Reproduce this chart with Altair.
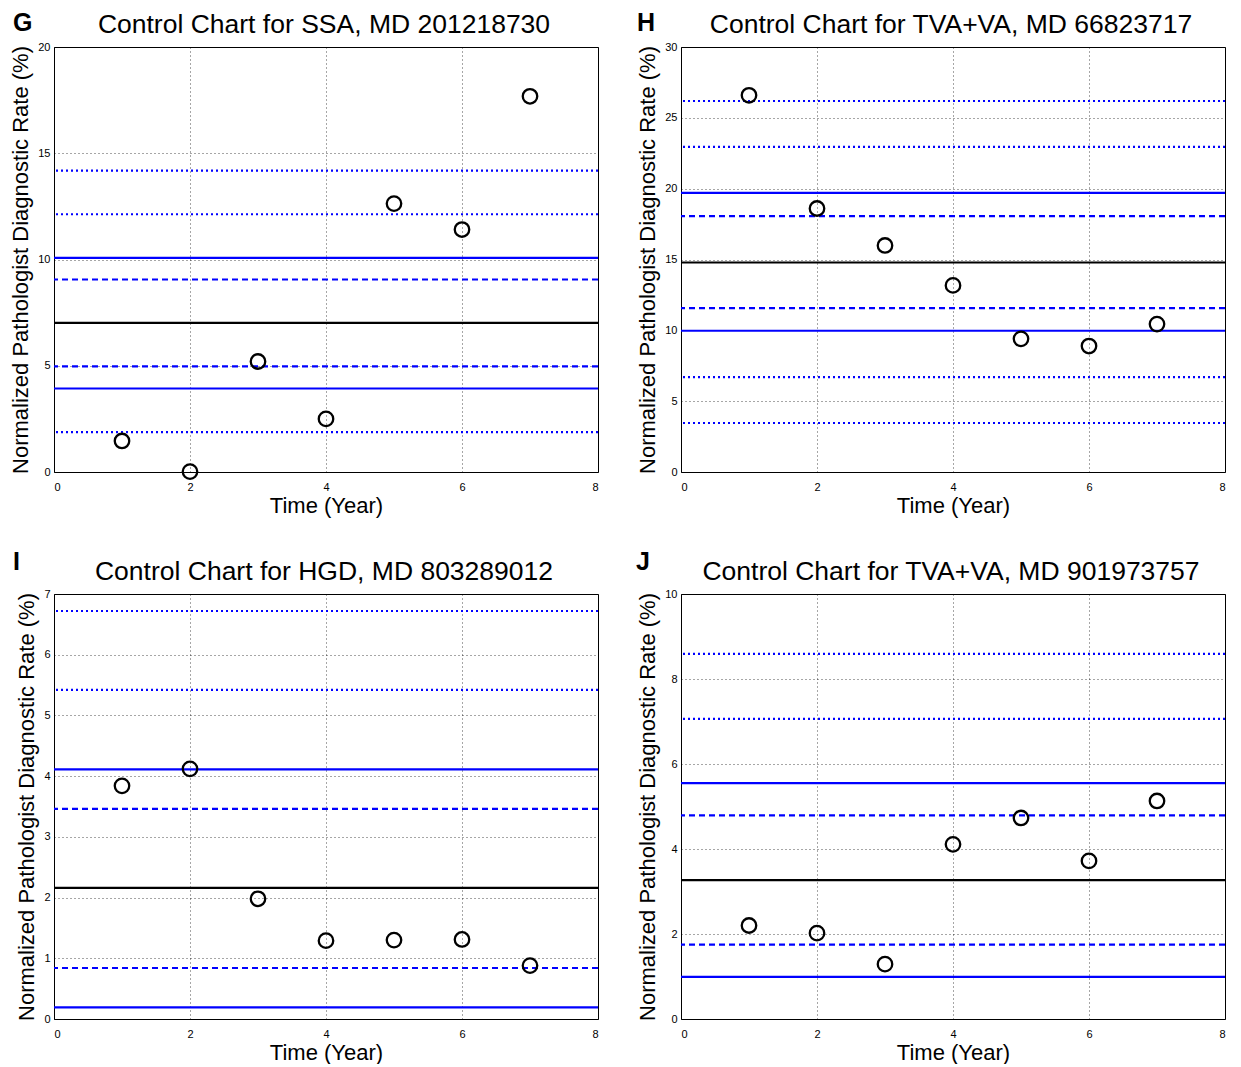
import altair as alt
import pandas as pd

years = [1, 2, 3, 4, 5, 6, 7]

# Panel G
g_title = "Control Chart for SSA, MD 201218730"
g_vals = [1.46, 0.02, 5.2, 2.5, 12.63, 11.41, 17.68]
g_center = [7.02]
g_solid = [10.08, 3.93]
g_dashed = [9.06, 4.97]
g_dotted = [14.18, 12.13, 1.88]
g_ymax = 20
g_yticks = [0, 5, 10, 15, 20]

# Panel H
h_title = "Control Chart for TVA+VA, MD 66823717"
h_vals = [26.59, 18.6, 15.99, 13.17, 9.4, 8.89, 10.44]
h_center = [14.79]
h_solid = [19.70, 9.97]
h_dashed = [18.06, 11.57]
h_dotted = [26.19, 22.95, 6.70, 3.46]
h_ymax = 30
h_yticks = [0, 5, 10, 15, 20, 25, 30]

# Panel I
i_title = "Control Chart for HGD, MD 803289012"
i_vals = [3.84, 4.12, 1.98, 1.29, 1.30, 1.31, 0.88]
i_center = [2.16]
i_solid = [4.11, 0.19]
i_dashed = [3.46, 0.84]
i_dotted = [6.72, 5.42]
i_ymax = 7
i_yticks = [0, 1, 2, 3, 4, 5, 6, 7]

# Panel J
j_title = "Control Chart for TVA+VA, MD 901973757"
j_vals = [2.20, 2.02, 1.29, 4.11, 4.73, 3.72, 5.13]
j_center = [3.27]
j_solid = [5.55, 0.99]
j_dashed = [4.79, 1.75]
j_dotted = [8.59, 7.06]
j_ymax = 10
j_yticks = [0, 2, 4, 6, 8, 10]

x_ticks = [0, 2, 4, 6, 8]

FONT = "Liberation Sans"
W, H = 544, 425
BLUE = "#0000ff"


def panel(letter, title, vals, center, solid, dashed, dotted, ymax, yticks, lx, ly):
    xs = alt.Scale(domain=[0, 8], nice=False)
    ys = alt.Scale(domain=[0, ymax], nice=False, zero=True)
    xax = alt.Axis(values=x_ticks, title="Time (Year)", grid=True)
    yax = alt.Axis(values=yticks, title="Normalized Pathologist Diagnostic Rate (%)", grid=True)

    base_pts = pd.DataFrame({"year": years, "rate": vals})
    pts = alt.Chart(base_pts).mark_point(
        shape="circle", filled=False, color="black", strokeWidth=2.3, size=210, opacity=1
    ).encode(
        x=alt.X("year:Q", scale=xs, axis=xax),
        y=alt.Y("rate:Q", scale=ys, axis=yax),
    )

    def rules(values, color, dash):
        kw = dict(color=color, strokeWidth=2.2)
        if dash:
            kw["strokeDash"] = dash
        return alt.Chart(pd.DataFrame({"v": values})).mark_rule(**kw).encode(
            y=alt.Y("v:Q", scale=ys, axis=yax)
        )

    lab = alt.Chart(pd.DataFrame({"t": [letter]})).mark_text(
        font=FONT, fontSize=25, fontWeight="bold", align="left", baseline="alphabetic", color="black"
    ).encode(text="t:N", x=alt.value(lx), y=alt.value(ly))

    ttl = alt.Chart(pd.DataFrame({"t": [title]})).mark_text(
        font=FONT, fontSize=26.5, fontWeight="normal", align="center", baseline="alphabetic", color="black"
    ).encode(text="t:N", x=alt.value(W / 2 - 2), y=alt.value(-14))

    return alt.layer(
        rules(dotted, BLUE, [2, 3]),
        rules(dashed, BLUE, [6, 4]),
        rules(solid, BLUE, None),
        rules(center, "black", None),
        pts,
        lab,
        ttl,
    ).properties(width=W, height=H)


pG = panel("G", g_title, g_vals, g_center, g_solid, g_dashed, g_dotted, g_ymax, g_yticks, -41, -16)
pH = panel("H", h_title, h_vals, h_center, h_solid, h_dashed, h_dotted, h_ymax, h_yticks, -44, -16)
pI = panel("I", i_title, i_vals, i_center, i_solid, i_dashed, i_dotted, i_ymax, i_yticks, -41, -24)
pJ = panel("J", j_title, j_vals, j_center, j_solid, j_dashed, j_dotted, j_ymax, j_yticks, -45, -24)

chart = alt.concat(pG, pH, pI, pJ, columns=2, spacing={"row": 32, "column": 35}).configure(
    padding={"left": 1, "top": 2, "right": 0, "bottom": 0}
).configure_view(
    stroke="black", strokeWidth=1
).configure_axis(
    domain=False,
    ticks=False,
    labelFont=FONT, labelFontSize=11, labelColor="black",
    titleFont=FONT, titleFontSize=22, titleFontWeight="normal", titleColor="black",
    gridColor="black", gridDash=[1, 3], gridOpacity=0.7, gridWidth=1,
).configure_axisY(titlePadding=5, labelPadding=4).configure_axisX(titlePadding=3, labelPadding=9)

chart.save("out.html", embed_options={"renderer": "svg", "actions": False})
